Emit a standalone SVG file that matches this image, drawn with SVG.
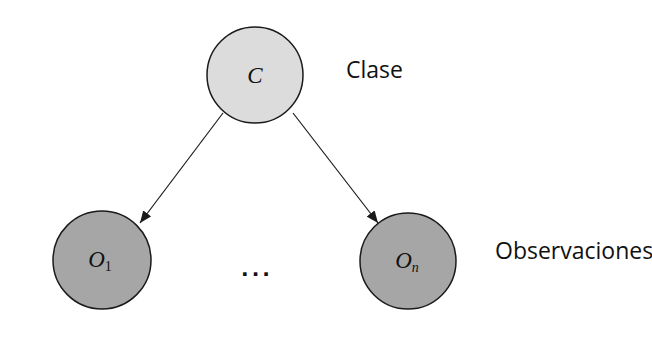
<svg xmlns="http://www.w3.org/2000/svg" width="652" height="344" viewBox="0 0 652 344">
<style>
.node{stroke:#1a1a1a;stroke-width:1.5}
.top{fill:#dcdcdc}
.obs{fill:#a6a6a6}
.var{font-family:"Liberation Serif",serif;font-style:italic;font-size:23px;fill:#111}
.sub{font-family:"Liberation Serif",serif;font-size:14px;fill:#111}
.lbl{font-family:"Open Sans","Noto Sans",sans-serif;font-size:23px;fill:#111}
.dots{font-family:"DejaVu Sans",sans-serif;font-weight:bold;font-size:20px;fill:#111}
.edge{stroke:#1a1a1a;stroke-width:1.2;fill:none;marker-end:url(#ah)}
</style>
<defs>
<marker id="ah" viewBox="0 0 12 10" refX="12" refY="5" markerWidth="12" markerHeight="10" markerUnits="userSpaceOnUse" orient="auto">
<path d="M0,0 L12,5 L0,10 z" fill="#1a1a1a"/>
</marker>
</defs>
<rect width="652" height="344" fill="#ffffff"/>
<g id="connectors">
<line class="edge" x1="223" y1="113" x2="140" y2="223"/>
<line class="edge" x1="293" y1="113" x2="378" y2="223"/>
</g>
<g id="node-C">
<circle class="node top" cx="255" cy="75" r="48"/>
<text class="var" x="255" y="83" text-anchor="middle" font-size="25">C</text>
</g>
<g id="node-O1">
<circle class="node obs" cx="102" cy="260" r="49"/>
<text class="var" x="100" y="267" text-anchor="middle">O<tspan class="sub" dy="4" font-style="normal">1</tspan></text>
</g>
<g id="node-On">
<circle class="node obs" cx="408" cy="261" r="48"/>
<text class="var" x="407" y="268" text-anchor="middle">O<tspan class="sub" dy="4">n</tspan></text>
</g>
<g id="dots">
<text class="dots" x="257" y="276" text-anchor="middle" letter-spacing="3">...</text>
</g>
<g id="label-clase">
<text class="lbl" x="346" y="78">Clase</text>
</g>
<g id="label-obs">
<text class="lbl" x="495" y="259">Observaciones</text>
</g>
</svg>
